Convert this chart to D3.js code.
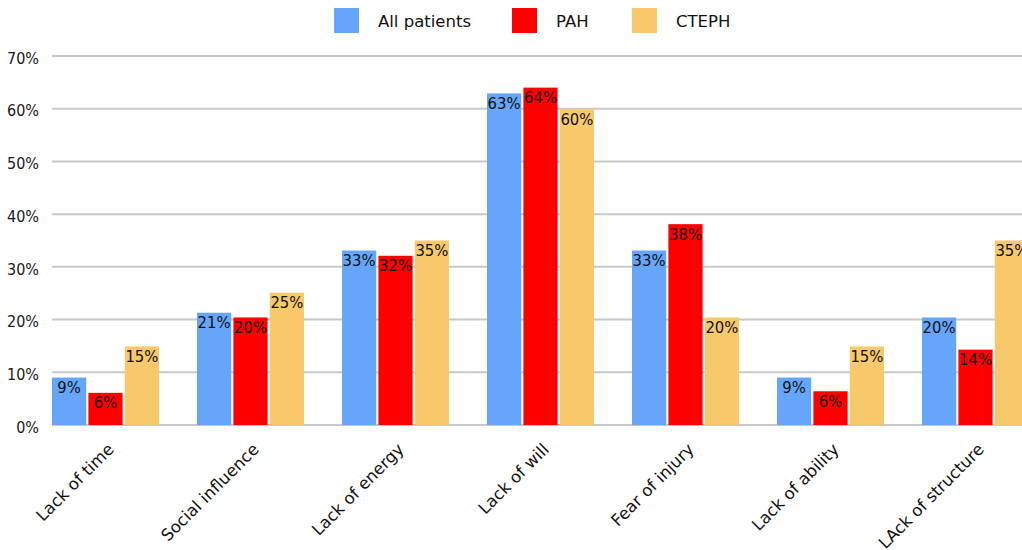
<!DOCTYPE html>
<html>
<head>
<meta charset="utf-8">
<script src="https://cdn.jsdelivr.net/npm/d3@7"></script>
<style>
  html, body { margin: 0; padding: 0; background: #fff; overflow: hidden; }
  svg { display: block; }
</style>
</head>
<body>
<svg id="chart" width="1022" height="550"></svg>
<script>
// Reasons given for not exercising, by patient group (share of respondents)
const categories = ["Lack of time", "Social influence", "Lack of energy", "Lack of will",
                    "Fear of injury", "Lack of ability", "LAck of structure"];
const seriesNames = ["All patients", "PAH", "CTEPH"];
const allPatients = [0.090, 0.213, 0.331, 0.629, 0.331, 0.090, 0.204];
const pah         = [0.061, 0.204, 0.321, 0.640, 0.381, 0.064, 0.143];
const cteph       = [0.149, 0.251, 0.350, 0.599, 0.204, 0.149, 0.350];
const seriesColors = ["#66a6fa", "#ff0000", "#f7c96a"];
const yTicks = [0, 0.1, 0.2, 0.3, 0.4, 0.5, 0.6, 0.7];

const series = [allPatients, pah, cteph];
const W = 1022, H = 550;
const plot = { left: 52, right: 1029, top: 56, bottom: 425 };

const svg = d3.select("#chart");

const y = d3.scaleLinear().domain([0, 0.7]).range([plot.bottom, plot.top]);
const x0 = d3.scaleBand().domain(categories)
  .range([plot.left, plot.right]).paddingInner(0.262).paddingOuter(0).align(0);
const x1 = d3.scaleBand().domain(seriesNames)
  .range([0, x0.bandwidth()]).paddingInner(0.06).paddingOuter(0);
const color = d3.scaleOrdinal().domain(seriesNames).range(seriesColors);
const pct = d3.format(".0%");

// Horizontal gridlines
svg.append("g").selectAll("line").data(yTicks).join("line")
  .attr("x1", plot.left).attr("x2", W)
  .attr("y1", d => y(d)).attr("y2", d => y(d))
  .attr("stroke", "#c8c8c8").attr("stroke-width", 2);

// Y axis labels
const yAxis = d3.axisLeft(y).tickValues(yTicks).tickFormat(pct).tickSize(0).tickPadding(13);
const gy = svg.append("g").attr("transform", `translate(${plot.left},0)`).call(yAxis);
gy.select(".domain").remove();
gy.selectAll("text")
  .attr("font-family", "'DejaVu Sans Condensed', 'DejaVu Sans', sans-serif")
  .attr("font-size", 16).attr("fill", "#1a1a1a").attr("dy", "0.45em");

// Bars
const rows = categories.map((c, i) => ({
  cat: c,
  vals: seriesNames.map((s, k) => ({ s, v: series[k][i] }))
}));

const groups = svg.append("g").selectAll("g").data(rows).join("g")
  .attr("transform", d => `translate(${x0(d.cat)},0)`);

groups.selectAll("rect").data(d => d.vals).join("rect")
  .attr("x", d => x1(d.s))
  .attr("y", d => y(d.v))
  .attr("width", x1.bandwidth())
  .attr("height", d => y(0) - y(d.v))
  .attr("fill", d => color(d.s));

// Value labels inside bar tops
groups.selectAll("text").data(d => d.vals).join("text")
  .attr("x", d => x1(d.s) + x1.bandwidth() / 2)
  .attr("y", d => y(d.v) + 15.5)
  .attr("text-anchor", "middle")
  .attr("font-family", "'DejaVu Sans Condensed', 'DejaVu Sans', sans-serif")
  .attr("font-size", 16.5).attr("fill", "#111")
  .text(d => pct(d.v));

// Category labels, rotated
svg.append("g").selectAll("text").data(categories).join("text")
  .attr("transform", d => `translate(${x0(d) + x0.bandwidth() / 2 + 1},${plot.bottom + 17}) rotate(-45)`)
  .attr("text-anchor", "end")
  .attr("dy", "0.72em")
  .attr("font-family", "'DejaVu Sans', sans-serif")
  .attr("font-size", 16.5).attr("fill", "#111")
  .text(d => d);

// Legend
const legendX = [334, 512, 632];
const legend = svg.append("g").selectAll("g").data(seriesNames).join("g")
  .attr("transform", (d, i) => `translate(${legendX[i]},8)`);
legend.append("rect").attr("width", 25).attr("height", 25).attr("fill", d => color(d));
legend.append("text").attr("x", 44).attr("y", 19)
  .attr("font-family", "'DejaVu Sans', sans-serif")
  .attr("font-size", 16.5).attr("fill", "#111")
  .text(d => d);
</script>
</body>
</html>
